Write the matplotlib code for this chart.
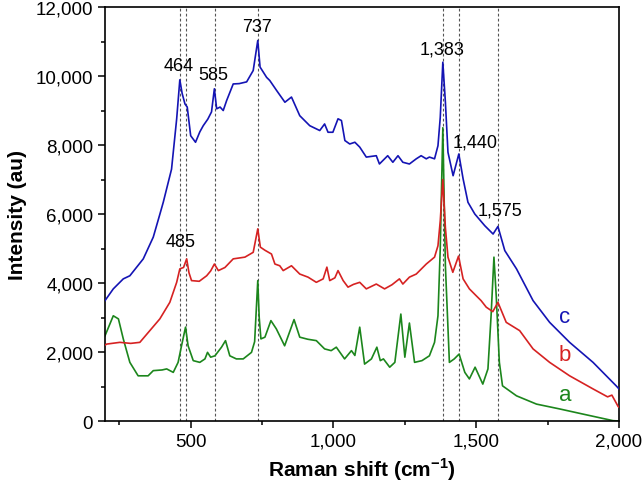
import numpy as np
import matplotlib
matplotlib.use("Agg")
import matplotlib.pyplot as plt
from matplotlib.ticker import MultipleLocator, FuncFormatter

plt.rcParams['font.family'] = ['Liberation Sans', 'DejaVu Sans']
plt.rcParams['mathtext.fontset'] = 'custom'
plt.rcParams['mathtext.rm'] = 'Liberation Sans:bold'
plt.rcParams['mathtext.bf'] = 'Liberation Sans:bold'

# spectrum c (blue)
wn_c = [200, 229, 264, 287, 334, 369, 392, 404, 433, 451,
        462, 470, 480, 488, 500, 517, 532, 544, 560, 573,
        583, 591, 603, 614, 626, 649, 670, 696, 719, 735,
        743, 766, 777, 801, 830, 853, 882, 917, 952, 969,
        981, 998, 1016, 1028, 1040, 1057, 1075, 1092, 1115, 1150,
        1161, 1190, 1208, 1226, 1243, 1266, 1290, 1307, 1325, 1336,
        1354, 1366, 1374, 1383, 1392, 1401, 1419, 1439, 1454, 1471,
        1495, 1530, 1559, 1576, 1600, 1641, 1699, 1757, 1827, 1909,
        1990, 2000]
int_c = [3490, 3830, 4120, 4210, 4700, 5330, 5990, 6340, 7300, 8760,
         9890, 9500, 9190, 9100, 8270, 8080, 8380, 8560, 8750, 8960,
         9630, 9050, 9100, 9000, 9290, 9770, 9780, 9830, 10160, 11030,
         10260, 9960, 9870, 9580, 9240, 9390, 8850, 8560, 8420, 8610,
         8370, 8370, 8760, 8710, 8130, 8030, 8080, 7940, 7650, 7690,
         7450, 7690, 7500, 7690, 7500, 7450, 7600, 7690, 7600, 7650,
         7600, 7980, 8800, 10400, 9240, 7790, 7110, 7740, 7020, 6340,
         6000, 5660, 5420, 5640, 4940, 4410, 3490, 2860, 2280, 1700,
         1020, 930]

# spectrum b (red)
wn_b = [200, 206, 252, 290, 322, 357, 392, 427, 451, 462,
        475, 486, 494, 503, 530, 556, 570, 583, 597, 620,
        649, 690, 719, 735, 744, 760, 783, 795, 812, 824,
        853, 882, 911, 940, 964, 977, 987, 1005, 1016, 1034,
        1051, 1070, 1092, 1115, 1150, 1179, 1205, 1231, 1243, 1266,
        1290, 1325, 1354, 1366, 1374, 1383, 1392, 1401, 1418, 1438,
        1454, 1476, 1500, 1517, 1535, 1558, 1576, 1605, 1652, 1699,
        1757, 1827, 1909, 1960, 1975, 1997, 2000]
int_b = [2200, 2230, 2280, 2250, 2280, 2620, 2960, 3440, 4020, 4410,
         4450, 4700, 4300, 4070, 4050, 4210, 4350, 4550, 4360, 4450,
         4700, 4750, 4890, 5570, 5040, 4950, 4840, 4550, 4500, 4360,
         4500, 4260, 4170, 4020, 4120, 4460, 4070, 4150, 4360, 4070,
         3880, 3960, 4020, 3830, 3970, 3830, 3950, 4120, 3970, 4170,
         4260, 4550, 4750, 5080, 5800, 7000, 5600, 4750, 4310, 4780,
         4120, 3830, 3630, 3490, 3300, 3170, 3440, 2860, 2620, 2090,
         1700, 1310, 930, 700, 750, 420, 400]

# spectrum a (green)
wn_a = [200, 229, 247, 264, 287, 316, 351, 369, 400, 416,
        439, 456, 468, 482, 491, 509, 532, 550, 559, 570,
        585, 608, 622, 637, 660, 684, 713, 724, 735, 740,
        746, 760, 781, 800, 829, 862, 882, 910, 940, 969,
        992, 1010, 1039, 1063, 1075, 1092, 1109, 1133, 1152, 1164,
        1175, 1197, 1215, 1236, 1250, 1266, 1284, 1310, 1336, 1354,
        1366, 1374, 1383, 1392, 1406, 1423, 1440, 1460, 1476, 1496,
        1523, 1541, 1552, 1562, 1570, 1581, 1592, 1641, 1711, 1792,
        1874, 1979, 2000]
int_a = [2470, 3050, 2960, 2380, 1700, 1310, 1310, 1460, 1480, 1510,
         1410, 1700, 2180, 2720, 2180, 1750, 1700, 1800, 1990, 1850,
         1890, 2140, 2330, 1890, 1800, 1800, 1990, 2300, 4070, 3000,
         2380, 2430, 2910, 2670, 2180, 2940, 2430, 2370, 2330, 2090,
         2040, 2140, 1800, 2040, 1900, 2720, 1650, 1800, 2140, 1750,
         1800, 1560, 1700, 3100, 1850, 2840, 1700, 1750, 1890, 2280,
         3050, 5000, 8500, 4500, 1700, 1800, 1940, 1410, 1220, 1560,
         1070, 1510, 3050, 4750, 3630, 1700, 1020, 730, 490, 350,
         200, 10, 0]

peak_pos = [464, 485, 585, 737, 1383, 1440, 1575]
peak_labels = ['464', '485', '585', '737', '1,383', '1,440', '1,575']
label_x = [459, 466, 581, 733, 1381, 1495, 1582]
label_y = [10300, 5200, 10030, 11440, 10790, 8100, 6130]

blue = '#1414b4'
red = '#d62222'
green = '#1c861c'

fig = plt.figure(figsize=(6.43, 4.89), dpi=100)
ax = fig.add_axes([0.1633, 0.137, 0.7994, 0.8466])

for p in peak_pos:
    ax.axvline(p, color='#555555', lw=0.8, ls=(0, (2.5, 2)), zorder=1)

ax.plot(wn_a, int_a, color=green, lw=1.2, zorder=2)
ax.plot(wn_b, int_b, color=red, lw=1.2, zorder=3)
ax.plot(wn_c, int_c, color=blue, lw=1.2, zorder=4)

for lx, ly, t in zip(label_x, label_y, peak_labels):
    ax.text(lx, ly, t, ha='center', va='center', fontsize=13, zorder=5)

ax.text(1811, 3040, 'c', color=blue, fontsize=16, ha='center', va='center')
ax.text(1811, 1940, 'b', color=red, fontsize=16, ha='center', va='center')
ax.text(1811, 780, 'a', color=green, fontsize=16, ha='center', va='center')

ax.set_xlim(200, 2000)
ax.set_ylim(0, 12000)
ax.xaxis.set_major_locator(MultipleLocator(500))
ax.xaxis.set_minor_locator(MultipleLocator(250))
ax.yaxis.set_major_locator(MultipleLocator(2000))
ax.yaxis.set_minor_locator(MultipleLocator(1000))
fmt = FuncFormatter(lambda v, pos: '{:,.0f}'.format(v))
ax.xaxis.set_major_formatter(fmt)
ax.yaxis.set_major_formatter(fmt)
ax.tick_params(which='major', direction='out', length=5, width=1.1, labelsize=13.5)
ax.tick_params(which='minor', direction='out', length=3, width=1.1)
for s in ax.spines.values():
    s.set_linewidth(1.2)

ax.set_xlabel(r'Raman shift (cm$^{\mathbf{-1}}$)', fontsize=15, fontweight='bold', labelpad=4)
ax.set_ylabel('Intensity (au)', fontsize=15, fontweight='bold', labelpad=6)

fig.savefig('out.png', dpi=100)
